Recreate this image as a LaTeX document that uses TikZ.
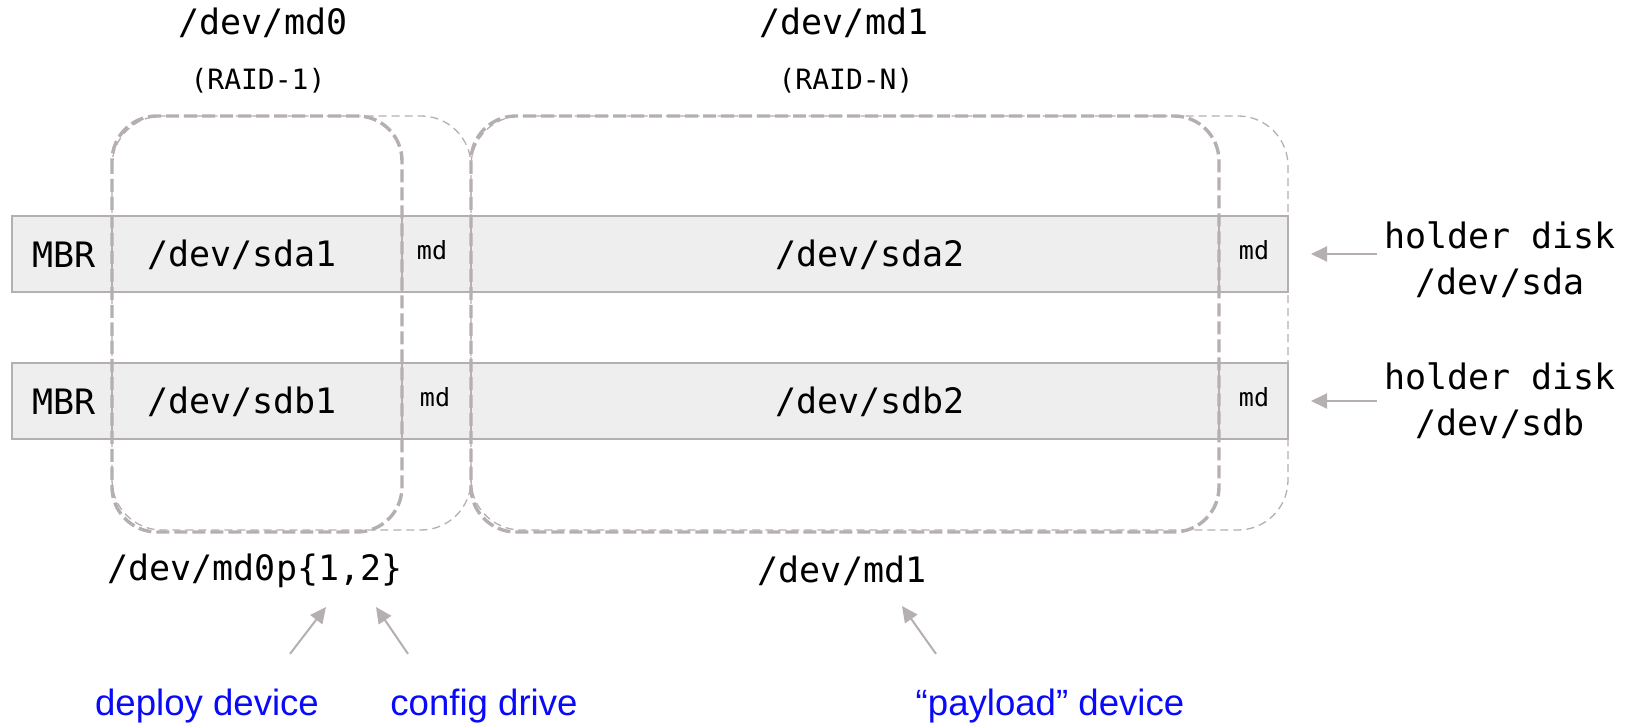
\documentclass[tikz,border=0pt]{standalone}
\usepackage{fontspec}
\setmonofont{DejaVu Sans Mono}
\newfontfamily\arialfont{Liberation Sans}
\usetikzlibrary{arrows.meta}

\definecolor{diskgray}{RGB}{181,175,175}
\definecolor{diskfill}{RGB}{238,238,238}
\definecolor{noteblue}{RGB}{10,10,250}

\begin{document}
\begin{tikzpicture}[x=0.5pt,y=-0.5pt,
    cell/.style={draw=diskgray, fill=diskfill, line width=0.75pt, inner sep=0pt, outer sep=0pt, minimum height=38pt},
    big/.style={font=\fontsize{17.5}{23}\selectfont\ttfamily},
    small/.style={font=\fontsize{12.5}{15}\selectfont\ttfamily},
    raid/.style={font=\fontsize{14}{17}\selectfont\ttfamily},
    note/.style={font=\fontsize{18.3}{22}\selectfont\arialfont, text=noteblue},
    arr/.style={-{Triangle[length=8pt,width=7.5pt]}, draw=diskgray, fill=diskgray, line width=1pt},
    mdset/.style={draw=diskgray, line width=1.7pt, dash pattern=on 6.5pt off 2.5pt, rounded corners=22.5pt},
    mdcopy/.style={draw=diskgray, line width=0.65pt, dash pattern=on 4pt off 2.5pt, rounded corners=25pt}]
    \useasboundingbox (0,0) rectangle (1634,726);

    % holder disk sda
    \draw (62,254) node[cell, minimum width=50pt] (mbra) {};
    \draw (257,254) node[cell, minimum width=145pt] (sdaone) {};
    \draw (436.5,254) node[cell, minimum width=34.5pt] (mda) {};
    \draw (845,254) node[cell, minimum width=374pt] (sdatwo) {};
    \draw (1253.5,254) node[cell, minimum width=34.5pt] (mdaend) {};
    % holder disk sdb
    \draw (62,401) node[cell, minimum width=50pt] (mbrb) {};
    \draw (257,401) node[cell, minimum width=145pt] (sdbone) {};
    \draw (436.5,401) node[cell, minimum width=34.5pt] (mdb) {};
    \draw (845,401) node[cell, minimum width=374pt] (sdbtwo) {};
    \draw (1253.5,401) node[cell, minimum width=34.5pt] (mdbend) {};

    \draw (64,255) node[big] (mbratxt) {MBR};
    \draw (242,255) node[big] (sdaonetxt) {/dev/sda1};
    \draw (432,250) node[small] (mdatxt) {md};
    \draw (870,255) node[big] (sdatwotxt) {/dev/sda2};
    \draw (1254,250) node[small] (mdaendtxt) {md};
    \draw (64,402) node[big] (mbrbtxt) {MBR};
    \draw (242,402) node[big] (sdbonetxt) {/dev/sdb1};
    \draw (435,397) node[small] (mdbtxt) {md};
    \draw (870,402) node[big] (sdbtwotxt) {/dev/sdb2};
    \draw (1254,397) node[small] (mdbendtxt) {md};

    % raid sets
    \draw[mdcopy] (112,116) rectangle (471,530);
    \draw[mdset] (112,116) rectangle (402,532);
    \draw[mdcopy] (471,116) rectangle (1288,530);
    \draw[mdset] (471,116) rectangle (1219,532);

    \draw (263,23) node[big] (mdzero) {/dev/md0};
    \draw (258,81) node[raid] (raidone) {(RAID-1)};
    \draw (844,23) node[big] (mdone) {/dev/md1};
    \draw (846,81) node[raid] (raidn) {(RAID-N)};

    \draw (1500,259.5) node[big, align=center] (hda) {holder disk\\/dev/sda};
    \draw (1500,401) node[big, align=center] (hdb) {holder disk\\/dev/sdb};
    \draw[arr, shorten >=11.5pt] (hda.west |- mdaend.east) -- (mdaend.east);
    \draw[arr, shorten >=11.5pt] (hdb.west |- mdbend.east) -- (mdbend.east);

    \draw (255,571) node[big] (mdzeropart) {/dev/md0p\{1,2\}};
    \draw (842,571) node[big] (mdonepart) {/dev/md1};
    \draw (207,706) node[note] (deploy) {deploy device};
    \draw (484,706) node[note] (config) {config drive};
    \draw (1050,706) node[note] (payload) {“payload” device};
    \draw[arr] ([shift={(83,-28)}]deploy.north) -- ([shift={(71,12)}]mdzeropart.south);
    \draw[arr] ([shift={(-76,-28)}]config.north) -- ([shift={(121,12)}]mdzeropart.south);
    \draw[arr] ([shift={(-114,-28)}]payload.north) -- ([shift={(60,13)}]mdonepart.south);
\end{tikzpicture}
\end{document}
